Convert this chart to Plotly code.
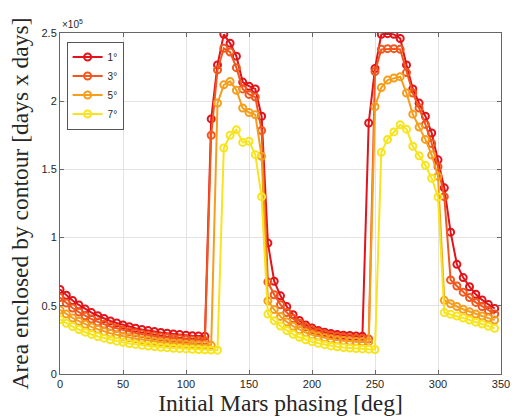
import plotly.graph_objects as go

# Initial Mars phasing [deg]
phase_deg = list(range(0, 350, 5))

# Area enclosed by contour, in thousands of days x days
area_1deg = [62.0, 57.7, 53.9, 50.6, 47.6, 45.0, 42.7, 40.7, 38.9, 37.4, 36.0, 34.7, 33.6, 32.7, 31.8, 31.1,
             30.4, 29.9, 29.3, 28.9, 28.5, 28.1, 27.8, 27.6,
             187, 226.6, 249, 242.5, 233, 214, 211, 209, 189, 96,
             68, 57.3, 49.4, 43.5, 39.2, 36.0, 33.7, 31.9, 30.6, 29.7, 29.0, 28.5, 28.2, 27.9, 27.6,
             184, 224, 249, 249.5, 249, 246, 226.6, 209, 198.6, 189, 176.7, 157, 136.5, 104, 80.4, 70.7,
             64, 58.5, 54.3, 51, 48]
area_3deg = [56.0, 52.0, 48.4, 45.4, 42.7, 40.3, 38.2, 36.4, 34.8, 33.5, 32.2, 31.1, 30.1, 29.3, 28.5, 27.8,
             27.2, 26.7, 26.2, 25.8, 25.4, 25.0, 24.7, 24.4,
             175, 223, 238.8, 236, 224.6, 209, 205, 203, 178.5, 67.5,
             58.1, 50.8, 45.1, 40.6, 37.2, 34.5, 32.4, 30.8, 29.5, 28.5, 27.7, 27.1, 26.6, 26.3, 26.0, 25.7,
             221.7, 238, 238.5, 238.5, 238, 221, 206, 195, 183, 169, 152, 130, 69, 64.5, 60, 56, 52.5, 49.5,
             46.5, 44]
area_5deg = [47.0, 43.9, 41.1, 38.7, 36.5, 34.5, 32.8, 31.2, 29.9, 28.7, 27.6, 26.7, 25.9, 25.2, 24.5, 23.9,
             23.4, 23.0, 22.6, 22.3, 21.9, 21.6, 21.4, 21.2, 21.0,
             198.6, 212, 214.5, 208, 195, 191.7, 190, 159.6,
             53.6, 47.2, 42.2, 38.2, 35.0, 32.5, 30.4, 28.8, 27.6, 26.5, 25.7, 25.0, 24.5, 24.1, 23.8, 23.6, 23.4,
             196, 210, 215.5, 217, 218, 206, 190.5, 181, 172, 160.5, 145,
             54, 51.5, 49.5, 47.5, 45.7, 44, 42.5, 41, 39.5]
area_7deg = [40.0, 37.2, 34.8, 32.6, 30.7, 29.0, 27.5, 26.3, 25.1, 24.1, 23.2, 22.4, 21.7, 21.1, 20.5, 20.1,
             19.6, 19.3, 18.9, 18.6, 18.4, 18.1, 17.9, 17.8, 17.6, 17.5,
             165.7, 175, 179, 169.8, 170.6, 160.8, 130,
             43.9, 39.1, 35.1, 31.8, 29.1, 26.9, 25.1, 23.7, 22.5, 21.5, 20.6, 20.0, 19.4, 19.0, 18.7, 18.4, 18.2, 18.0,
             162.5, 172, 177.5, 182.7, 179.5, 167, 160, 153, 143.5, 129.8,
             45, 43.8, 42.5, 41, 39.6, 38, 36.6, 35, 33.5]

series_names = ["1°", "3°", "5°", "7°"]
series_values = [area_1deg, area_3deg, area_5deg, area_7deg]
series_colors = ["#e0141a", "#f0581e", "#f59e1e", "#f7e41e"]

fig = go.Figure()
for name, vals, col in zip(series_names, series_values, series_colors):
    fig.add_trace(go.Scatter(
        x=phase_deg, y=[v / 100.0 for v in vals], name=name,
        mode="lines+markers",
        line=dict(color=col, width=2),
        marker=dict(symbol="circle-open", size=7, color=col, line=dict(width=2, color=col)),
    ))

axis_common = dict(
    showline=True, linecolor="#666666", linewidth=1, mirror="ticks",
    ticks="inside", ticklen=4, tickcolor="#666666",
    showgrid=True, gridcolor="#e3e3e3", gridwidth=1, zeroline=False,
    tickfont=dict(family="Liberation Sans, Arial", size=11, color="#262626"),
)

title_font = dict(family="Liberation Serif, Times New Roman", size=23.5, color="#262626")

fig.update_layout(
    width=520, height=418,
    margin=dict(l=60, r=10, t=33, b=43),
    paper_bgcolor="white", plot_bgcolor="white",
    showlegend=True,
    legend=dict(x=0.015, y=0.975, xanchor="left", yanchor="top",
                bgcolor="white", bordercolor="#555555", borderwidth=1,
                font=dict(family="Liberation Sans, Arial", size=10, color="#262626"),
                itemwidth=30, tracegroupgap=0),
    xaxis=dict(range=[0, 350], dtick=50,
               title=dict(text="Initial Mars phasing [deg]", standoff=1, font=title_font),
               **axis_common),
    yaxis=dict(range=[0, 2.5], dtick=0.5,
               title=dict(text="Area enclosed by contour [days x days]", standoff=6, font=title_font),
               **axis_common),
)

fig.add_annotation(text="×10<sup>5</sup>", xref="paper", yref="paper", x=0, y=1,
                   xanchor="left", yanchor="bottom", showarrow=False, yshift=1,
                   font=dict(family="Liberation Sans, Arial", size=10, color="#262626"))

fig.write_html("out.html")
